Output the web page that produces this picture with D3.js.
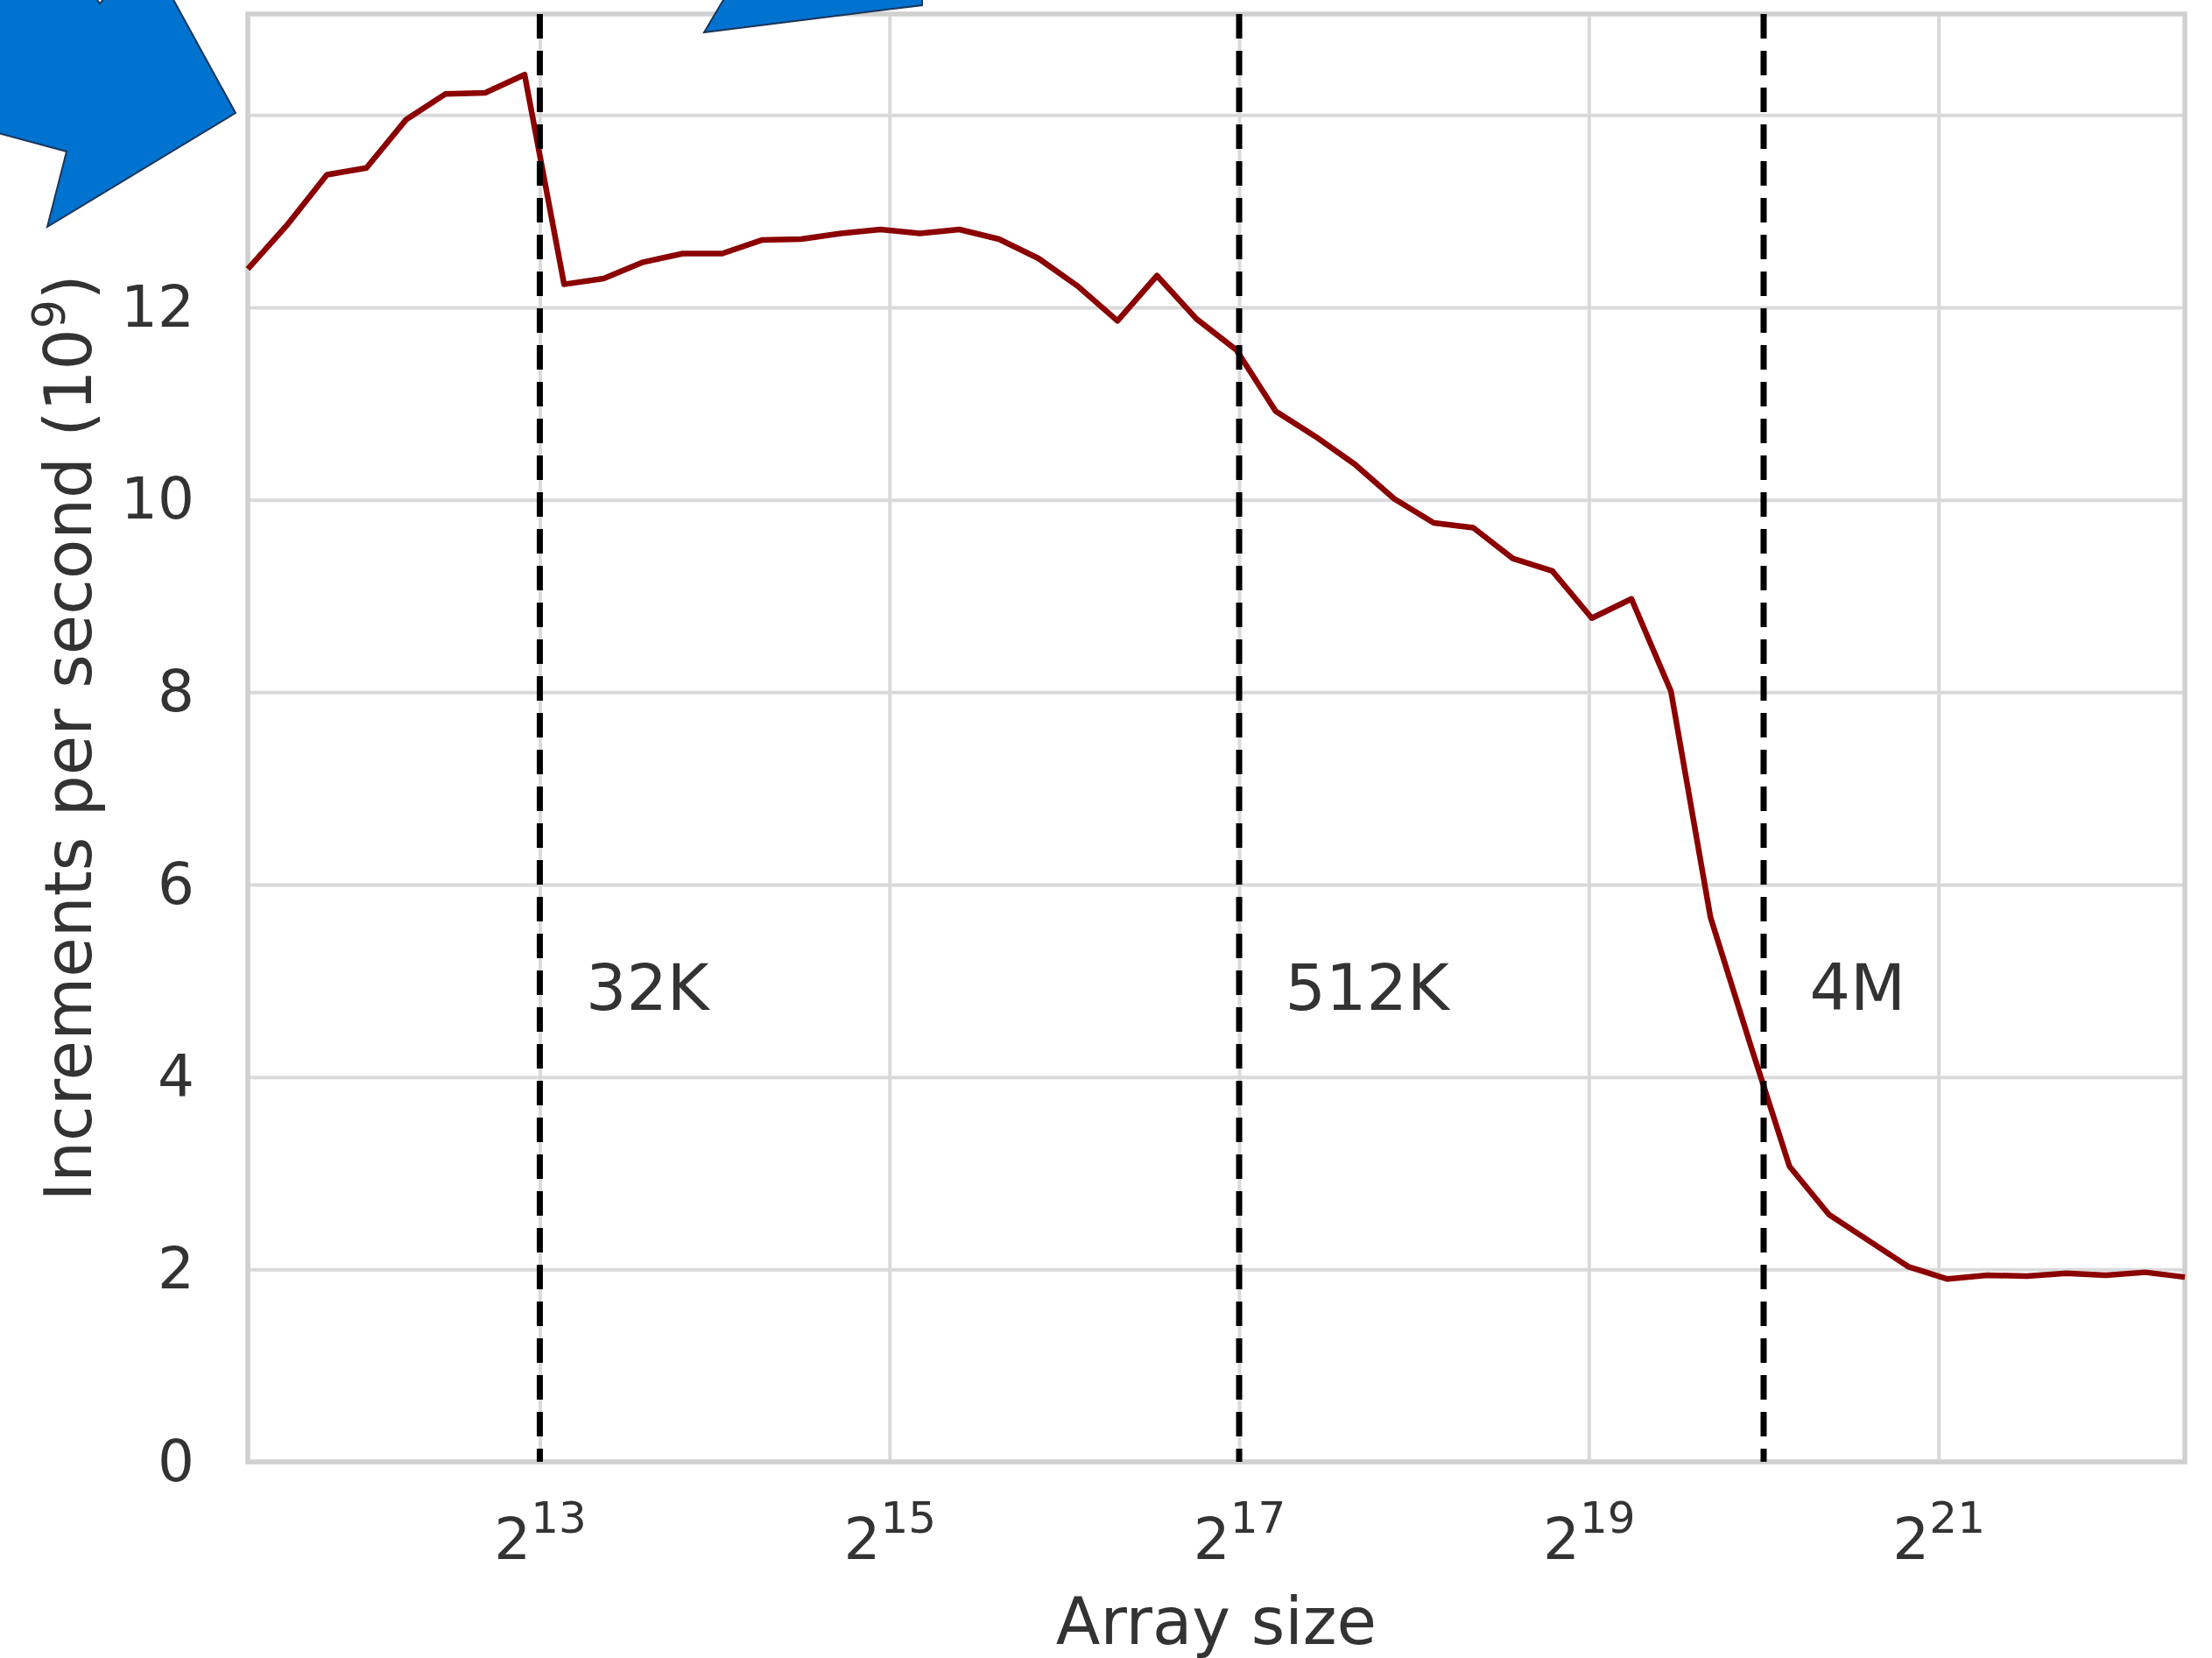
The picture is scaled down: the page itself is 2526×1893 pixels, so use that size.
<!doctype html>
<html lang="en">
<head>
<meta charset="utf-8">
<style>
    body { margin: 0; background: #fff; }
    svg text { font-family: "DejaVu Sans", sans-serif; fill: #333; }
    .grid line { stroke: #dadada; stroke-width: 4; }
    .grid .domain { display: none; }
    .spine { fill: none; stroke: #d0d0d0; stroke-width: 5.5; }
</style>
<script src="https://d3js.org/d3.v7.min.js"></script>
</head>
<body>
<svg width="2526" height="1893"></svg>
<script>
    // array sizes (x) and measured increments per second, in 10^9
    const arraySizes = [2574, 3011, 3522, 4119, 4817, 5637, 6594, 7712, 9020, 10551,
        12340, 14432, 16881, 19745, 23092, 27024, 31607, 36969, 43238, 50568,
        59148, 69174, 80905, 94627, 110682, 129532, 151494, 177196, 207252, 242404,
        283511, 331588, 387846, 453640, 530527, 620862, 726139, 849294, 993323, 1161822,
        1358849, 1589332, 1858892, 2174117, 2542797, 2976075, 3480852, 4071221, 4762211, 5570035];
    const incrementsPerSec = [12.40, 12.86, 13.38, 13.45, 13.95, 14.22, 14.23, 14.42, 12.24, 12.30,
        12.47, 12.56, 12.56, 12.70, 12.71, 12.77, 12.81, 12.77, 12.81, 12.71,
        12.51, 12.22, 11.86, 12.33, 11.88, 11.56, 10.92, 10.66, 10.37, 10.01,
        9.76, 9.71, 9.39, 9.26, 8.77, 8.97, 8.01, 5.66, 4.35, 3.07,
        2.57, 2.30, 2.03, 1.90, 1.94, 1.93, 1.96, 1.94, 1.97, 1.92];

    const yTicks = [0, 2, 4, 6, 8, 10, 12, 14];
    const xTickExponents = [13, 15, 17, 19, 21];

    // cache size boundaries (in ints) and their labels
    const cacheSizes = [8192, 131072, 1048576];
    const cacheLabels = ["32K", "512K", "4M"];
    const cacheLabelY = 4.7;
    const cacheLabelOffset = 1.2;

    const yMax = 15.05;

    const margin = { top: 16, right: 31, bottom: 224, left: 283 };
    const width = 2526 - margin.left - margin.right;
    const height = 1893 - margin.top - margin.bottom;

    const svg = d3.select("svg");
    const g = svg.append("g")
        .attr("transform", `translate(${margin.left}, ${margin.top})`);

    const x = d3.scaleLog().base(2)
        .domain([arraySizes[0], arraySizes[arraySizes.length - 1]])
        .range([0, width]);

    const y = d3.scaleLinear()
        .domain([0, yMax])
        .range([height, 0]);

    // horizontal grid + y tick labels
    g.append("g")
        .attr("class", "grid")
        .call(d3.axisLeft(y).tickValues(yTicks).tickSize(-width).tickPadding(61).tickFormat(d3.format("d")))
        .selectAll("text")
        .style("font-size", "66px")
        .style("fill", "#333");

    // vertical grid
    const xTicks = xTickExponents.map(e => Math.pow(2, e));
    const xAxis = g.append("g")
        .attr("class", "grid")
        .attr("transform", `translate(0, ${height})`)
        .call(d3.axisBottom(x).tickValues(xTicks).tickSize(-height).tickFormat(""));

    xAxis.selectAll(".tick").each(function(d, i) {
        const t = d3.select(this).append("text")
            .attr("y", 111)
            .attr("text-anchor", "middle")
            .style("font-size", "66px")
            .style("fill", "#333");
        t.append("tspan").text("2");
        t.append("tspan")
            .attr("dy", -30)
            .style("font-size", "50px")
            .text(xTickExponents[i]);
    });

    // plot frame
    g.append("rect")
        .attr("class", "spine")
        .attr("x", 0)
        .attr("y", 0)
        .attr("width", width)
        .attr("height", height);

    // data line
    const line = d3.line()
        .x((d, i) => x(arraySizes[i]))
        .y(d => y(d));

    g.append("path")
        .datum(incrementsPerSec)
        .attr("fill", "none")
        .attr("stroke", "#8b0000")
        .attr("stroke-width", 6.5)
        .attr("stroke-linejoin", "round")
        .attr("d", line);

    // cache boundaries
    g.selectAll(".cache-line")
        .data(cacheSizes)
        .enter()
        .append("line")
        .attr("class", "cache-line")
        .attr("x1", d => x(d))
        .attr("x2", d => x(d))
        .attr("y1", 0)
        .attr("y2", height)
        .attr("stroke", "#000")
        .attr("stroke-width", 7)
        .attr("stroke-dasharray", "28,14");

    g.selectAll(".cache-label")
        .data(cacheSizes)
        .enter()
        .append("text")
        .attr("class", "cache-label")
        .attr("x", d => x(d * cacheLabelOffset))
        .attr("y", y(cacheLabelY))
        .style("font-size", "73px")
        .text((d, i) => cacheLabels[i]);

    // axis labels
    svg.append("text")
        .attr("x", margin.left + width / 2)
        .attr("y", 1877)
        .attr("text-anchor", "middle")
        .style("font-size", "74px")
        .text("Array size");

    const yLabel = svg.append("text")
        .attr("transform", `translate(104, ${margin.top + height / 2}) rotate(-90)`)
        .attr("text-anchor", "middle")
        .style("font-size", "74px");
    yLabel.append("tspan").text("Increments per second (10");
    yLabel.append("tspan").attr("dy", -30).style("font-size", "52px").text("9");
    yLabel.append("tspan").attr("dy", 30).text(")");

    // blue arrows pasted over the figure
    const arrows = [
        [[-20, 147], [76, 173], [54, 259], [269, 129], [196, -4], [121, -4], [114, 4], [108, -4], [-20, -4]],
        [[804, 37], [829, -5], [1053, -5], [1053, 6]]
    ];
    svg.selectAll(".arrow")
        .data(arrows)
        .enter()
        .append("polygon")
        .attr("class", "arrow")
        .attr("points", d => d.map(p => p.join(",")).join(" "))
        .attr("fill", "#0072cf")
        .attr("stroke", "#1d3557")
        .attr("stroke-width", 2);
</script>
</body>
</html>
